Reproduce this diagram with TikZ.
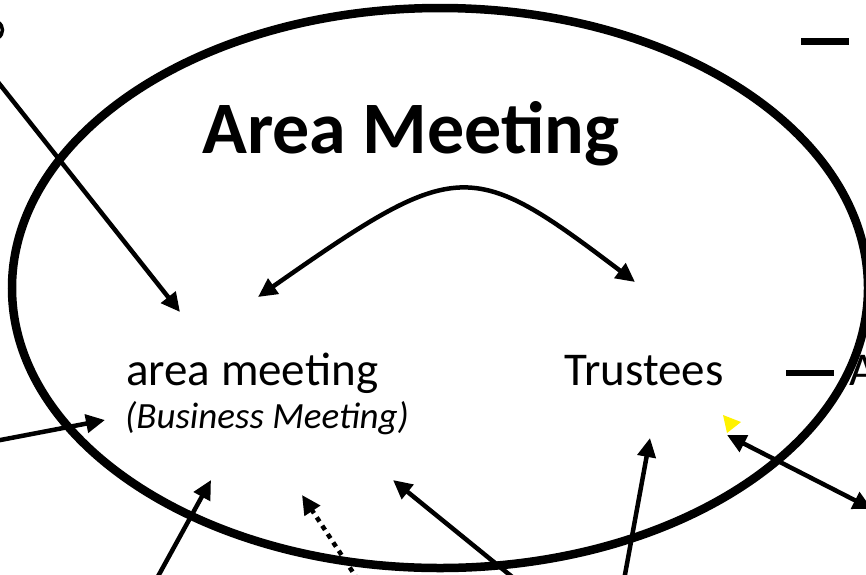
\documentclass[tikz,border=0pt]{standalone}
\usepackage{fontspec}
\setmainfont{Carlito}
\usetikzlibrary{arrows.meta}
\tikzset{
  flow/.style={line width=4.5pt,-{Triangle[length=19pt,width=18pt]}},
  twoway/.style={line width=4.5pt,{Triangle[length=19pt,width=18pt]}-{Triangle[length=19pt,width=18pt]}},
  txt/.style={anchor=base west,inner sep=0pt,font=\fontsize{47}{50}\selectfont}
}
\begin{document}
\begin{tikzpicture}[x=1pt,y=-1pt]
\useasboundingbox (0,0) rectangle (866,574);
\clip (0,0) rectangle (866,574);
\draw[line width=8.5pt] (440,288) ellipse (428 and 280);
% texts
\node[txt,font=\fontsize{74}{76}\selectfont\bfseries] (title) at (202,153) {Area Meeting};
\node[txt] (area) at (126,385) {area meeting};
\node[txt,font=\fontsize{37}{40}\selectfont\itshape] (business) at (125,428) {(Business Meeting)};
\node[txt] (trustees) at (564,385) {Trustees};
\node[txt] (cutA) at (849,385) {A};
% arrow ends
\coordinate (tlIn) at (-10,72);   \coordinate (tlTip) at (180,312);
\coordinate (lIn) at (-10,442);   \coordinate (lTip) at (105,420);
\coordinate (b1In) at (156,580);  \coordinate (b1Tip) at (211,480);
\coordinate (b2In) at (358,580);  \coordinate (b2Tip) at (302,495);
\coordinate (b3In) at (516,580);  \coordinate (b3Tip) at (393,480);
\coordinate (b4In) at (624,580);  \coordinate (b4Tip) at (650,438);
\coordinate (rEnd) at (872,509);  \coordinate (rTip) at (727,435);
\coordinate (curveL) at (258,297); \coordinate (curveR) at (635,282);
\draw[flow] (tlIn) -- (tlTip);
\draw[flow] (lIn) -- (lTip);
\draw[flow] (b1In) -- (b1Tip);
\draw[flow,dash pattern=on 5pt off 5pt,line cap=butt] (b2In) -- (b2Tip);
\draw[flow] (b3In) -- (b3Tip);
\draw[flow] (b4In) -- (b4Tip);
\draw[twoway] (rTip) -- (rEnd);
\draw[twoway] (curveL) .. controls (458,157) and (470,157) .. (curveR);
% bits at the edges
\draw[line width=6.5pt] (801,41.5) -- (849,41.5);
\draw[line width=6.5pt] (786,373) -- (834,373);
\draw[line width=3.5pt] (-2,22) .. controls (4,26) and (4,34) .. (-2,38);
\fill[yellow] (723,415) -- (741,422) -- (727,433) -- cycle;
\end{tikzpicture}
\end{document}
